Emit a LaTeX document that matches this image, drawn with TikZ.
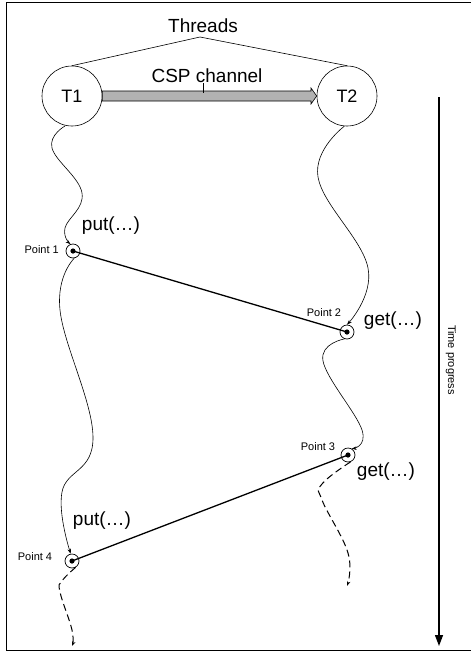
\documentclass[tikz,border=0pt]{standalone}
\usepackage{fontspec}
\setmainfont{Liberation Sans}
\usetikzlibrary{arrows.meta}
\begin{document}
\begin{tikzpicture}[x=1pt,y=-1pt,
  big/.style={font=\fontsize{19}{21}\selectfont, inner sep=0},
  small/.style={font=\fontsize{11}{13}\selectfont, inner sep=0},
  thread/.style={circle, draw, line width=0.6pt, minimum size=60pt, inner sep=0, font=\fontsize{18}{20}\selectfont},
  ptc/.style={circle, draw, line width=0.7pt, minimum size=14pt, inner sep=0},
  wave/.style={line width=0.6pt, -{Stealth[length=5pt,width=3.5pt]}},
  dwave/.style={line width=1pt, dash pattern=on 7pt off 4pt, -{Stealth[length=5pt,width=3.5pt]}},
  msg/.style={line width=1.3pt},
]
\useasboundingbox (0,0) rectangle (471,659);
\draw[line width=0.9pt] (471,2) -- (6,2) -- (6,650) -- (471,650);

% threads
\node[thread] (T1) at (72,96) {T1};
\node[thread] (T2) at (347,96) {T2};
\node[big] (thr) at (203,26) {Threads};
\coordinate (apex) at (200,37);
\draw[line width=0.6pt] (T1.north) -- (apex) -- (T2.north);

% channel
\draw[line width=0.6pt, fill=black!30] (T1.east |- 0,91) -- (311,91) -- (311,88) -- (T2.west) -- (311,104) -- (311,101) -- (T1.east |- 0,101) -- cycle;
\node[big] (csp) at (207,76) {CSP channel};
\coordinate (tick) at (203,93);
\draw[line width=0.6pt] (csp.south -| tick) -- (tick);

% points
\node[ptc] (p1) at (73,251) {};
\node[ptc] (p2) at (347,332) {};
\node[ptc] (p3) at (348,455) {};
\node[ptc] (p4) at (72,561) {};
\foreach \p in {p1,p2,p3,p4} \fill (\p.center) circle (2.6pt);

\node[small, anchor=east] (l1) at (59,250) {Point 1};
\node[small] (l2) at (324,313) {Point 2};
\node[small] (l3) at (318,447) {Point 3};
\node[small] (l4) at (35,557) {Point 4};

\node[big] (put1) at (111,226) {put(…)};
\node[big] (get2) at (393,321) {get(…)};
\node[big] (get3) at (386,472) {get(…)};
\node[big] (put4) at (102,521) {put(…)};

% messages
\draw[msg] (p1.center) -- (p2.center);
\draw[msg] (p4.center) -- (p3.center);

% thread timelines
\draw[wave] plot[smooth, tension=0.7] coordinates {(65,126) (52,148) (82,193) (65,228) (p1.110)};
\draw[wave] plot[smooth, tension=0.7] coordinates {(p1.-80) (60,310) (93,437) (62,492) (p4.100)};
\draw[dwave] plot[smooth, tension=0.7] coordinates {(p4.-60) (62,581) (60,592) (72,630) (72,646)};

\draw[wave] plot[smooth, tension=0.7] coordinates {(T2.-95) (318,177) (368,268) (p2.90)};
\draw[wave] plot[smooth, tension=0.7] coordinates {(p2.-110) (323,361) (362,430) (p3.60)};
\draw[dwave] plot[smooth, tension=0.7] coordinates {(p3.-70) (322,484) (322,500) (348,553) (347,586)};

% time
\coordinate (tt) at (439,97);
\coordinate (tb) at (439,646);
\draw[line width=1.3pt, -{Triangle[length=11pt,width=8pt]}] (tt) -- (tb);
\node[small, rotate=-90] (tp) at (451,360) {Time progress};
\end{tikzpicture}
\end{document}
